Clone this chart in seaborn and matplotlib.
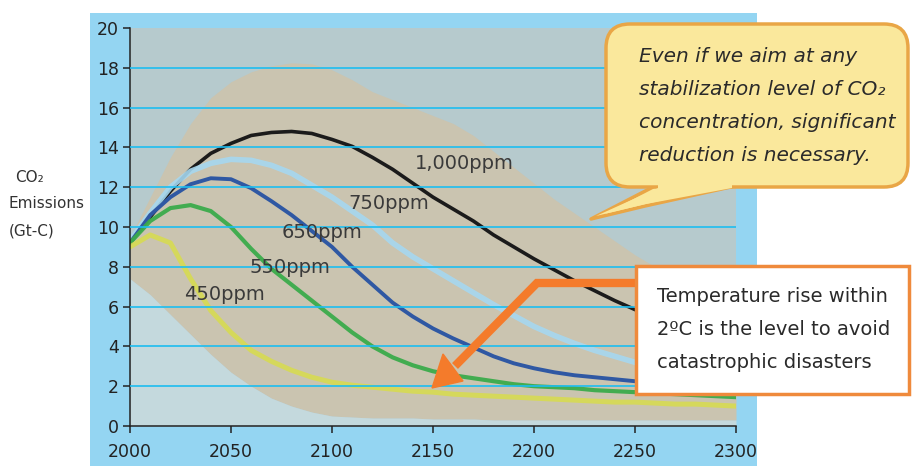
import matplotlib
matplotlib.use("Agg")
import matplotlib.pyplot as plt
import numpy as np
import pandas as pd
import seaborn as sns
from matplotlib.patches import Rectangle, FancyBboxPatch, Polygon

# ---------------- data ----------------
years = list(range(2000, 2301, 10))
ppm1000 = [9.2, 10.5, 11.8, 12.9, 13.7, 14.2, 14.6, 14.75, 14.8, 14.7, 14.4,
           14.05, 13.5, 12.9, 12.2, 11.5, 10.9, 10.3, 9.6, 9.0, 8.4,
           7.85, 7.3, 6.8, 6.3, 5.85, 5.4, 5.0, 4.6, 4.3, 4.0]
ppm750 = [9.3, 10.7, 12.0, 12.8, 13.2, 13.4, 13.35, 13.1, 12.7, 12.1, 11.5,
          10.8, 10.1, 9.2, 8.5, 7.9, 7.3, 6.7, 6.1, 5.55, 5.0,
          4.55, 4.15, 3.8, 3.5, 3.2, 3.0, 2.8, 2.65, 2.5, 2.4]
ppm650 = [9.2, 10.6, 11.5, 12.15, 12.45, 12.4, 11.95, 11.3, 10.6, 9.8, 9.0,
          8.0, 7.1, 6.2, 5.5, 4.9, 4.4, 3.95, 3.5, 3.15, 2.9,
          2.7, 2.55, 2.45, 2.35, 2.25, 2.2, 2.15, 2.1, 2.05, 2.0]
ppm550 = [9.2, 10.3, 10.95, 11.1, 10.8, 10.0, 8.9, 7.9, 7.1, 6.3, 5.5,
          4.7, 4.0, 3.45, 3.05, 2.75, 2.55, 2.4, 2.25, 2.1, 2.0,
          1.95, 1.9, 1.8, 1.75, 1.7, 1.65, 1.6, 1.55, 1.5, 1.45]
ppm450 = [9.0, 9.6, 9.2, 7.4, 5.8, 4.7, 3.8, 3.25, 2.8, 2.45, 2.2,
          2.05, 1.95, 1.85, 1.75, 1.7, 1.6, 1.55, 1.5, 1.45, 1.4,
          1.35, 1.3, 1.25, 1.2, 1.2, 1.15, 1.1, 1.1, 1.05, 1.0]
env_upper = [9.5, 11.5, 13.5, 15.2, 16.5, 17.3, 17.8, 18.1, 18.25, 18.2, 17.9,
             17.4, 16.8, 16.4, 16.0, 15.6, 15.2, 14.6, 13.8, 13.0, 12.2,
             11.4, 10.7, 10.0, 9.3, 8.6, 8.0, 7.5, 7.0, 6.6, 6.2]
env_lower = [7.4, 6.6, 5.6, 4.6, 3.6, 2.7, 2.0, 1.4, 1.0, 0.7, 0.5,
             0.45, 0.4, 0.4, 0.4, 0.35, 0.35, 0.35, 0.3, 0.3, 0.3,
             0.3, 0.3, 0.3, 0.3, 0.3, 0.3, 0.3, 0.3, 0.3, 0.3]
scenarios = ["1,000ppm", "750ppm", "650ppm", "550ppm", "450ppm"]
label_year = [2141, 2108, 2075, 2059, 2027]
label_value = [13.2, 11.2, 9.7, 7.95, 6.6]
yticks = list(range(0, 21, 2))
xticks = list(range(2000, 2301, 50))

callout_lines = ["Even if we aim at any",
                 "stabilization level of CO\u2082",
                 "concentration, significant",
                 "reduction is necessary."]
box_lines = ["Temperature rise within",
             "2\u00baC is the level to avoid",
             "catastrophic disasters"]

df = pd.DataFrame({
    "year": years * 5,
    "emission": ppm1000 + ppm750 + ppm650 + ppm550 + ppm450,
    "scenario": sum([[s] * len(years) for s in scenarios], []),
})

styles = {
    "1,000ppm": dict(color="#1b1b1b", lw=2.6, alpha=1.0),
    "750ppm": dict(color="#a6d8f0", lw=4.0, alpha=0.9),
    "650ppm": dict(color="#2f58a3", lw=2.8, alpha=1.0),
    "550ppm": dict(color="#3bab4b", lw=3.0, alpha=0.95),
    "450ppm": dict(color="#d8dc4c", lw=3.6, alpha=0.85),
}

# ---------------- figure ----------------
sns.set_style("ticks")
plt.rcParams["font.family"] = ["DejaVu Sans"]
W, H = 915, 466
fig = plt.figure(figsize=(W / 100, H / 100), dpi=100)
fig.patch.set_facecolor("white")

fig.patches.append(Rectangle((90 / W, 0), (757 - 90) / W, (H - 13) / H,
                             transform=fig.transFigure, facecolor="#94d5f2",
                             edgecolor="none", zorder=-1))

ax = fig.add_axes([130 / W, (H - 426) / H, 606 / W, 398 / H])
ax.set_facecolor("#b6cacd")

ax.fill_between(years, env_lower, env_upper, color="#cac4b0", lw=0, zorder=0.5)
ax.fill_between(years, 0, env_lower, color="#c4d9dd", lw=0, zorder=0.5)

for s in scenarios:
    st = styles[s]
    sns.lineplot(data=df[df["scenario"] == s], x="year", y="emission",
                 color=st["color"], lw=st["lw"], alpha=st["alpha"],
                 estimator=None, sort=False, legend=False, ax=ax, zorder=2)

ax.hlines(yticks[1:-1], 2000, 2300, color="#1dbdf0", lw=1.2, zorder=3)

for s, yx, yv in zip(scenarios, label_year, label_value):
    ax.text(yx, yv, s, fontsize=14, color="#3a3a3a", ha="left", va="center", zorder=4)

ax.set_xlim(2000, 2300)
ax.set_ylim(0, 20)
ax.set_xticks(xticks)
ax.set_yticks(yticks)
ax.set_xlabel("")
ax.set_ylabel("")
ax.tick_params(axis="both", direction="out", length=5, width=1.1,
               colors="#222222", labelsize=12.5)
ax.tick_params(axis="x", pad=7)
ax.tick_params(axis="y", pad=3)
for side in ["top", "right"]:
    ax.spines[side].set_visible(False)
for side in ["left", "bottom"]:
    ax.spines[side].set_color("#222222")
    ax.spines[side].set_linewidth(1.1)

# ---------------- overlay (annotations in pixel space) ----------------
ov = fig.add_axes([0, 0, 1, 1], zorder=5)
ov.set_xlim(0, W)
ov.set_ylim(H, 0)
ov.axis("off")

# y-axis title
ov.text(15, 177, "CO\u2082", fontsize=11, color="#333333", ha="left", va="center")
ov.text(9, 204, "Emissions", fontsize=11, color="#333333", ha="left", va="center")
ov.text(9, 231, "(Gt-C)", fontsize=11, color="#333333", ha="left", va="center")

# speech bubble
fill_c, edge_c = "#fae89c", "#e9a646"
tail = Polygon([(655, 186), (591, 219), (645, 206), (735, 186)], closed=True,
               facecolor=fill_c, edgecolor=edge_c, lw=2.5, joinstyle="round", zorder=1)
ov.add_patch(tail)
bubble = FancyBboxPatch((606, 24), 302, 163,
                        boxstyle="round,pad=0,rounding_size=24",
                        facecolor=fill_c, edgecolor=edge_c, lw=2.5, zorder=2)
ov.add_patch(bubble)
cover = Polygon([(658, 178), (658, 188), (596, 216), (646, 204), (732, 188), (732, 178)],
                closed=True, facecolor=fill_c, edgecolor="none", zorder=3)
ov.add_patch(cover)
for i, line in enumerate(callout_lines):
    ov.text(639, 57 + 32.7 * i, line, fontsize=14.5, style="italic",
            color="#2a2a2a", ha="left", va="center", zorder=4)

# orange arrow
orange = "#f47b2b"
ov.plot([640, 537, 455], [283, 283, 366], color=orange, lw=6.0,
        solid_joinstyle="miter", solid_capstyle="butt", zorder=1)
ov.add_patch(Polygon([(432, 388), (463, 381), (443, 354)], closed=True,
                     facecolor=orange, edgecolor=orange, lw=1, zorder=1))

# text box
ov.add_patch(Rectangle((636, 266), 273, 128, facecolor="white",
                       edgecolor="#ef8a3c", lw=2.5, zorder=2))
for i, line in enumerate(box_lines):
    ov.text(657, 297 + 32.5 * i, line, fontsize=14, color="#2a2a2a",
            ha="left", va="center", zorder=3)

fig.savefig("out.png", dpi=100)
